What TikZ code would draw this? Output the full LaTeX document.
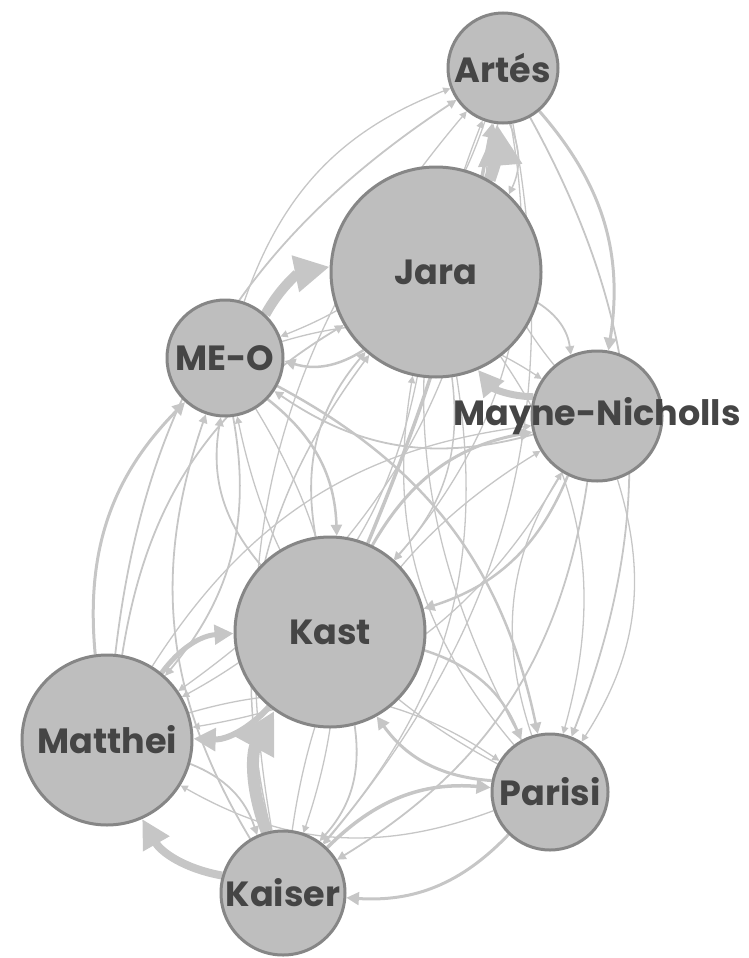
\documentclass[tikz,border=0pt]{standalone}
\usepackage{fontspec}
\setmainfont{Poppins}
\usetikzlibrary{arrows.meta,backgrounds}
\definecolor{nodegray}{HTML}{BEBEBE}
\definecolor{rimgray}{HTML}{868686}
\definecolor{edgegray}{HTML}{C6C6C6}
\definecolor{textgray}{HTML}{454545}

\begin{document}
\begin{tikzpicture}[x=1pt, y=1pt,
	cand/.style={circle, fill=nodegray, draw=rimgray, line width=3pt, inner sep=0pt},
	candname/.style={text=textgray, font=\fontsize{35}{38}\selectfont\bfseries},
	link/.style={draw=edgegray, -{Triangle[length=3pt 3.2, width=3pt 3.2]}, bend left=25},]

    \useasboundingbox (0,0) rectangle (749,-958);

    % candidates
    \node[cand, minimum size=110, label={[candname]center:Artés}] (ar) at (503,-68) {};
    \node[cand, minimum size=210, label={[candname]center:Jara}] (ja) at (436,-272) {};
    \node[cand, minimum size=116, label={[candname]center:ME-O}] (meo) at (225,-358) {};
    \node[cand, minimum size=130, label={[candname]center:Mayne-Nicholls}] (mn) at (597,-416) {};
    \node[cand, minimum size=190, label={[candname]center:Kast}] (ka) at (330,-632) {};
    \node[cand, minimum size=170, label={[candname]center:Matthei}] (ma) at (107,-740) {};
    \node[cand, minimum size=116, label={[candname]center:Parisi}] (pa) at (550,-792) {};
    \node[cand, minimum size=124, label={[candname]center:Kaiser}] (kai) at (283,-893) {};

    % mentions
    \begin{scope}[on background layer]
    \draw[link, bend left=0, bend right=12, line width=12pt] (ja) to (ar);
    \draw[link, bend left=0, bend right=6, line width=3.5pt] (ka) to (ar);
    \foreach \s/\t/\w in {ar/ja/1.5, ar/ka/1.3, meo/ar/1.3, ar/meo/1.3,
	ma/ar/1.8, ar/ma/1.3, mn/ar/1.3, ar/mn/3, pa/ar/1.3, ar/pa/1.8, kai/ar/1.3, ar/kai/1.3,
	meo/ja/10, ja/meo/2.5, mn/ja/7, ja/mn/1.8, ja/ka/1.5, ka/ja/1.8, ja/ma/1.3, ma/ja/1.8,
	ja/pa/1.3, pa/ja/1.3, ja/kai/1.3, kai/ja/1.5,
	meo/mn/1.3, mn/meo/1.8, meo/ka/2.5, ka/meo/1.8, meo/ma/1.8, ma/meo/3,
	meo/pa/2.5, pa/meo/1.3, meo/kai/1.3, kai/meo/1.8,
	mn/ka/2.5, ka/mn/3, mn/ma/1.3, ma/mn/1.3, mn/pa/1.3, pa/mn/1.3, mn/kai/1.8, kai/mn/1.3,
	ka/ma/6, ma/ka/5, ka/pa/2.5, pa/ka/3, ka/kai/1.8, kai/ka/12,
	ma/pa/1.3, pa/ma/1.3, ma/kai/1.8, kai/ma/8, pa/kai/3, kai/pa/3.5}
	\draw[link, line width=\w pt] (\s) to (\t);
    \end{scope}
\end{tikzpicture}
\end{document}
